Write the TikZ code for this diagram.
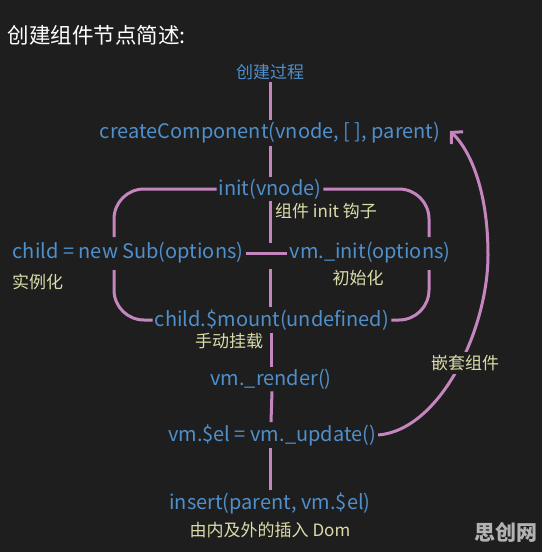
\documentclass[tikz,border=0pt]{standalone}
\usepackage{fontspec}
\setmainfont{Noto Sans CJK SC}
\usetikzlibrary{arrows.meta, positioning, calc}
\definecolor{bgdark}{HTML}{1E1E1E}
\definecolor{codeblue}{HTML}{4F8FCC}
\definecolor{noteyellow}{HTML}{DCDCAA}
\definecolor{flowpink}{HTML}{C586C0}

\begin{document}
\begin{tikzpicture}[x=1pt, y=-1pt,
  code/.style={text=codeblue, font=\fontsize{20}{23}\selectfont, inner sep=2pt},
  note/.style={text=noteyellow, font=\fontsize{17}{20}\selectfont, inner sep=1pt},
  flow/.style={draw=flowpink, line width=3pt},
  ]
  \fill[bgdark] (0,0) rectangle (542,552);
  \useasboundingbox (0,0) rectangle (542,552);

  \node[anchor=west, text=white, font=\fontsize{21.5}{24}\selectfont] (title) at (4,35) {创建组件节点简述:};

  % main chain
  \node[code, font=\fontsize{17}{20}\selectfont] (proc) at (270,72) {创建过程};
  \node[code] (create) at (270,133) {createComponent(vnode, [ ], parent)};
  \node[code] (init) at (270,189) {init(vnode)};
  \node[note, anchor=west] (initnote) at (274,211) {组件 init 钩子};
  \node[code] (child) at (128,253) {child = new Sub(options)};
  \node[note, anchor=west] (childnote) at (11,282) {实例化};
  \node[code] (vminit) at (370,253) {vm.\_init(options)};
  \node[note] (vminitnote) at (358,278) {初始化};
  \node[code] (mount) at (272,320) {child.\$mount(undefined)};
  \node[note] (mountnote) at (229,341) {手动挂载};
  \node[code] (render) at (271,379) {vm.\_render()};
  \node[code] (update) at (272,435) {vm.\$el = vm.\_update()};
  \node[code] (insert) at (270,503) {insert(parent, vm.\$el)};
  \node[note] (insertnote) at (270,530) {由内及外的插入 Dom};

  \draw[flow] (proc) -- (create);
  \draw[flow] (create) -- (init);
  \coordinate (gaptop) at (270,243);
  \coordinate (gapbot) at (270,269);
  \draw[flow] (init.south -| gaptop) -- (gaptop);
  \draw[flow] (gapbot) -- (gapbot |- mount.north);
  \draw[flow] (child) -- (vminit);
  \draw[flow] (mount.south -| render) -- (render);
  \draw[flow] (render.south -| update) -- (update.north -| render);
  \draw[flow] (update.south -| insert) -- (insert);

  % rounded frame round the init step
  \coordinate (boxtl) at (114,237);
  \coordinate (boxtr) at (429,237);
  \coordinate (boxbl) at (114,270);
  \coordinate (boxbr) at (429,270);
  \draw[flow, rounded corners=30pt] (init.west) -| (boxtl);
  \draw[flow, rounded corners=30pt] (init.east) -| (boxtr);
  \draw[flow, rounded corners=30pt] (mount.west) -| (boxbl);
  \draw[flow, rounded corners=30pt] (mount.east) -| (boxbr);

  % nested component loop
  \coordinate (nestturn) at (488,255);
  \coordinate (backtip) at (450,131);
  \draw[flow, -{Straight Barb[length=8pt, width=17pt]}] (update.east)
    .. controls (440,430) and (488,330) .. (nestturn)
    .. controls (488,190) and (470,150) .. (backtip);
  \node[note, fill=bgdark, inner sep=3pt] (nest) at (465,363) {嵌套组件};

  \node[text=white!70!black, font=\bfseries\fontsize{21}{24}\selectfont] (mark) at (506,532) {思创网};
\end{tikzpicture}
\end{document}
